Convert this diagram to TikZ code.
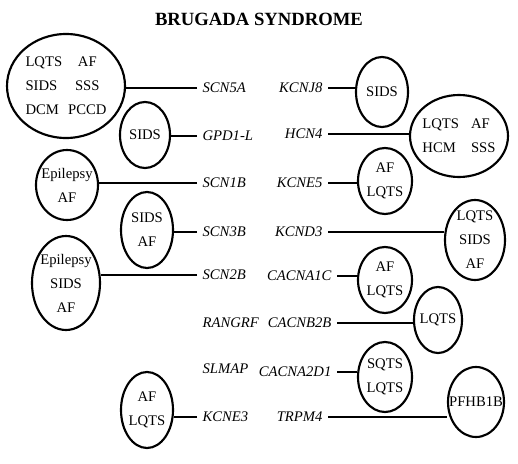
\documentclass[tikz,border=0pt]{standalone}
\usepackage{fontspec}
\setmainfont{Liberation Serif}[Numbers=OldStyle]
\usetikzlibrary{shapes.geometric}

\begin{document}
\begin{tikzpicture}[x=0.75pt,y=-0.75pt,
  dis/.style={draw,ellipse,line width=1.6pt,inner sep=-20pt,align=center,
    font=\fontsize{11}{18}\selectfont},
  sz/.style 2 args={minimum width=#1*1.5pt,minimum height=#2*1.5pt},
  gene/.style={font=\fontsize{11}{13}\selectfont\itshape,inner xsep=4pt,inner ysep=1pt},
  link/.style={line width=1.8pt}]
  \useasboundingbox (0,0) rectangle (518,464);

  \node[font=\fontsize{14}{16}\selectfont\bfseries] (title) at (259,19) {BRUGADA SYNDROME};

  % Left column of genes
  \node[gene,anchor=west] (scn5a) at (197,88) {SCN5A};
  \node[gene,anchor=west] (gpd1l) at (197,136) {GPD1-L};
  \node[gene,anchor=west] (scn1b) at (197,183) {SCN1B};
  \node[gene,anchor=west] (scn3b) at (197,232) {SCN3B};
  \node[gene,anchor=west] (scn2b) at (197,275) {SCN2B};
  \node[gene,anchor=west] (rangrf) at (197,323) {RANGRF};
  \node[gene,anchor=west] (slmap) at (197,369) {SLMAP};
  \node[gene,anchor=west] (kcne3) at (197,417) {KCNE3};

  % Right column of genes
  \node[gene,anchor=east] (kcnj8) at (328,88) {KCNJ8};
  \node[gene,anchor=east] (hcn4) at (328,134) {HCN4};
  \node[gene,anchor=east] (kcne5) at (328,183) {KCNE5};
  \node[gene,anchor=east] (kcnd3) at (328,232) {KCND3};
  \node[gene,anchor=east] (cacna1c) at (337,276) {CACNA1C};
  \node[gene,anchor=east] (cacnb2b) at (337,323) {CACNB2B};
  \node[gene,anchor=east] (cacna2d1) at (337,372) {CACNA2D1};
  \node[gene,anchor=east] (trpm4) at (328,417) {TRPM4};

  % Diseases, left
  \node[dis,sz={59}{52}] (l1) at (66,86)
    {\begin{tabular}{@{}l@{\hspace{4.5pt}}c@{}}LQTS & AF\\ SIDS & SSS\\ DCM & PCCD\end{tabular}};
  \node[dis,sz={25}{33}] (l2) at (145,135) {SIDS};
  \node[dis,sz={31}{35}] (l3) at (67,185) {Epilepsy\\AF};
  \node[dis,sz={26}{38}] (l4) at (147,230) {SIDS\\AF};
  \node[dis,sz={34}{47}] (l5) at (66,283) {Epilepsy\\SIDS\\AF};
  \node[dis,sz={26}{38}] (l6) at (147,410) {AF\\LQTS};

  % Diseases, right
  \node[dis,sz={26}{35}] (r1) at (382,92) {SIDS};
  \node[dis,sz={49}{41}] (r2) at (459,136)
    {\begin{tabular}{@{}l@{\hspace{9pt}}l@{}}LQTS & AF\\ HCM & SSS\end{tabular}};
  \node[dis,sz={27}{33}] (r3) at (385,181) {AF\\LQTS};
  \node[dis,sz={30}{40}] (r4) at (475,240) {LQTS\\SIDS\\AF};
  \node[dis,sz={27}{33}] (r5) at (385,280) {AF\\LQTS};
  \node[dis,sz={24}{33}] (r6) at (438,320) {LQTS};
  \node[dis,sz={27}{35}] (r7) at (385,377) {SQTS\\LQTS};
  \node[dis,sz={28}{35}] (r8) at (476,402) {PFHB1B};

  % Links
  \draw[link] (scn5a.west) -- (scn5a.west -| l1.east);
  \draw[link] (gpd1l.west) -- (gpd1l.west -| l2.east);
  \draw[link] (scn1b.west) -- (scn1b.west -| l3.east);
  \draw[link] (scn3b.west) -- (scn3b.west -| l4.east);
  \draw[link] (scn2b.west) -- (scn2b.west -| l5.east);
  \draw[link] (kcne3.west) -- (kcne3.west -| l6.east);
  \draw[link] (kcnj8.east) -- (kcnj8.east -| r1.west);
  \draw[link] (hcn4.east) -- (hcn4.east -| r2.west);
  \draw[link] (kcne5.east) -- (kcne5.east -| r3.west);
  \draw[link] (kcnd3.east) -- (kcnd3.east -| r4.west);
  \draw[link] (cacna1c.east) -- (cacna1c.east -| r5.west);
  \draw[link] (cacnb2b.east) -- (cacnb2b.east -| r6.west);
  \draw[link] (cacna2d1.east) -- (cacna2d1.east -| r7.west);
  \draw[link] (trpm4.east) -- (trpm4.east -| r8.west);
\end{tikzpicture}
\end{document}
